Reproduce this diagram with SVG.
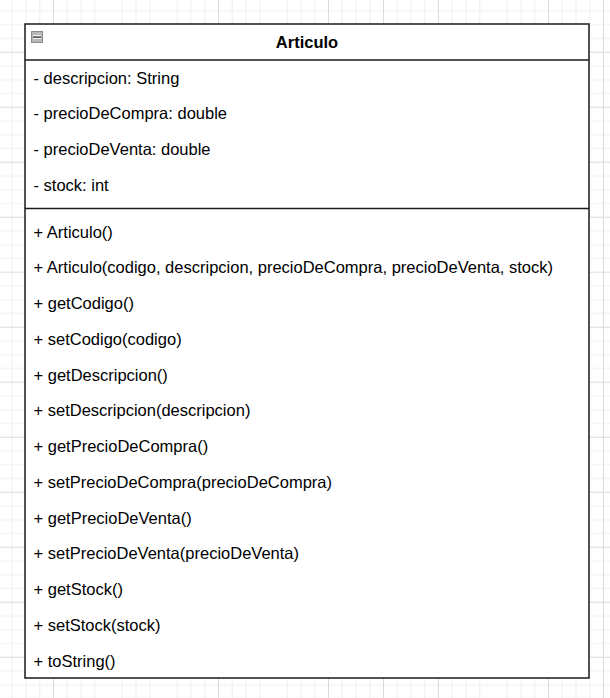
<svg xmlns="http://www.w3.org/2000/svg" width="610" height="698" viewBox="0 0 610 698">
  <style>
    .t { font-family: "Liberation Sans", Arial, sans-serif; font-size: 16.5px; fill: #000; }
    .h { font-family: "Liberation Sans", Arial, sans-serif; font-size: 16.5px; font-weight: bold; fill: #000; text-anchor: middle; }
    .box { fill: #ffffff; stroke: #1a1a1a; stroke-width: 1.5; }
    .sep { stroke: #1a1a1a; stroke-width: 1.5; fill: none; }
  </style>
  <defs>
    <pattern id="grid" patternUnits="userSpaceOnUse" x="53" y="51.7" width="55" height="55">
      <rect x="0" y="0" width="55" height="55" fill="#ffffff"/>
      <rect x="13.75" y="0" width="1" height="55" fill="#f0f0f0"/>
      <rect x="27.5" y="0" width="1" height="55" fill="#f0f0f0"/>
      <rect x="41.25" y="0" width="1" height="55" fill="#f0f0f0"/>
      <rect x="0" y="13.75" width="55" height="1" fill="#f0f0f0"/>
      <rect x="0" y="27.5" width="55" height="1" fill="#f0f0f0"/>
      <rect x="0" y="41.25" width="55" height="1" fill="#f0f0f0"/>
      <rect x="0" y="0" width="1" height="55" fill="#dcdcdc"/>
      <rect x="0" y="0" width="55" height="1" fill="#dcdcdc"/>
    </pattern>
  </defs>
  <rect x="0" y="0" width="610" height="698" fill="url(#grid)"/>

  <g id="connectors"></g>

  <g id="Articulo">
    <rect class="box" x="25" y="24" width="564" height="654"/>
    <line class="sep" x1="25" y1="60" x2="589" y2="60"/>
    <line class="sep" x1="25" y1="208.5" x2="589" y2="208.5"/>
    <g id="collapse-icon">
      <rect x="31.5" y="31.5" width="11" height="11" fill="#b8b8b8" stroke="#8c8c8c" stroke-width="1"/>
      <rect x="33" y="35" width="8" height="4" fill="#f2f2f2"/>
      <rect x="33" y="36.3" width="8" height="1.6" fill="#505050"/>
    </g>
    <text class="h" x="307" y="47.5">Articulo</text>

    <text class="t" x="33.5" y="83.5">- descripcion: String</text>
    <text class="t" x="33.5" y="119.2">- precioDeCompra: double</text>
    <text class="t" x="33.5" y="155">- precioDeVenta: double</text>
    <text class="t" x="33.5" y="190.7">- stock: int</text>

    <text class="t" x="33.5" y="237.5">+ Articulo()</text>
    <text class="t" x="33.5" y="273.2">+ Articulo(codigo, descripcion, precioDeCompra, precioDeVenta, stock)</text>
    <text class="t" x="33.5" y="309">+ getCodigo()</text>
    <text class="t" x="33.5" y="344.7">+ setCodigo(codigo)</text>
    <text class="t" x="33.5" y="380.5">+ getDescripcion()</text>
    <text class="t" x="33.5" y="416.2">+ setDescripcion(descripcion)</text>
    <text class="t" x="33.5" y="452">+ getPrecioDeCompra()</text>
    <text class="t" x="33.5" y="487.7">+ setPrecioDeCompra(precioDeCompra)</text>
    <text class="t" x="33.5" y="523.5">+ getPrecioDeVenta()</text>
    <text class="t" x="33.5" y="559.2">+ setPrecioDeVenta(precioDeVenta)</text>
    <text class="t" x="33.5" y="595">+ getStock()</text>
    <text class="t" x="33.5" y="630.7">+ setStock(stock)</text>
    <text class="t" x="33.5" y="666.5">+ toString()</text>
  </g>
</svg>
